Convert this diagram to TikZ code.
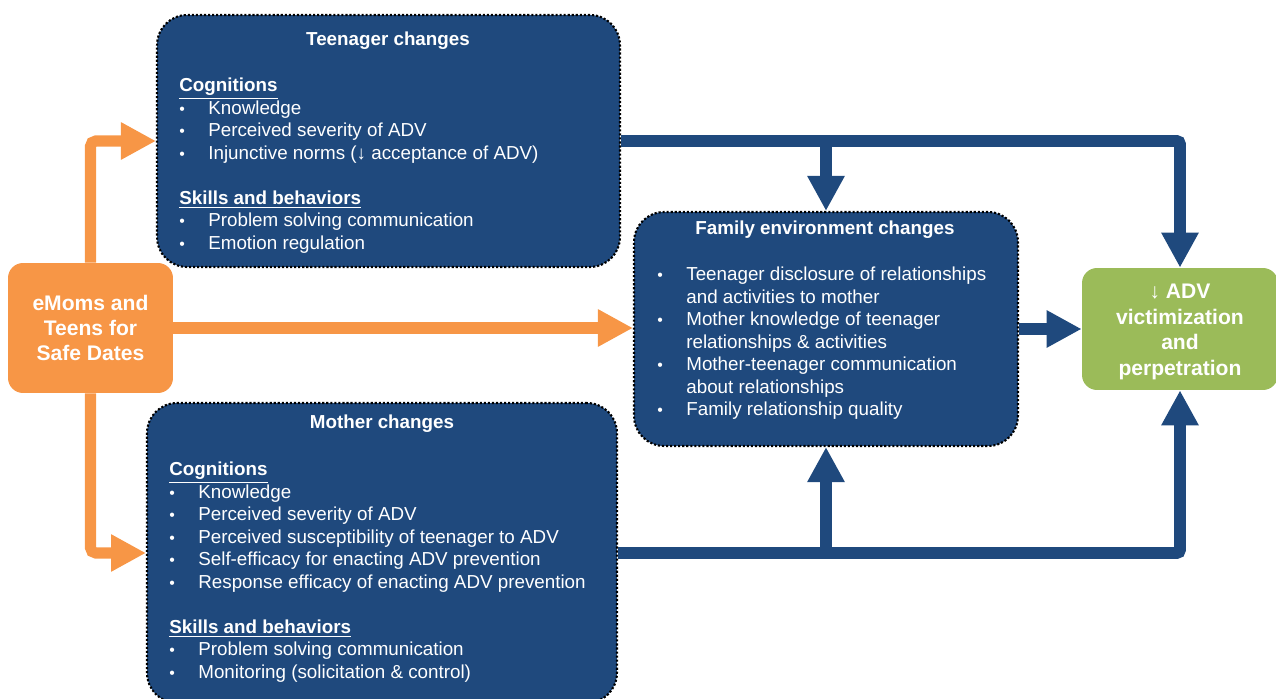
\documentclass[tikz,border=0pt]{standalone}
\usepackage{fontspec}
\setmainfont{Liberation Sans}
\usetikzlibrary{arrows.meta, positioning, calc}

\definecolor{boxblue}{RGB}{31,73,125}
\definecolor{progorange}{RGB}{247,150,70}
\definecolor{outgreen}{RGB}{155,187,89}

\newcommand{\bul}{\makebox[0.58cm][l]{\raisebox{0.2pt}{\fontsize{9}{9}\selectfont\textbullet}}}
\newcommand{\ind}{\hspace*{0.58cm}}
\newcommand{\head}[1]{\underline{\textbf{#1}}}

\begin{document}
\begin{tikzpicture}[
  x=0.02cm, y=-0.02cm,
  bluebox/.style={draw=black, fill=boxblue, rounded corners=0.6cm, line width=1.2pt, dash pattern=on 1.2pt off 1.1pt},
  progbox/.style={fill=progorange, rounded corners=0.3cm, text=white, align=center, font=\fontsize{12}{14.4}\selectfont\bfseries},
  outbox/.style={fill=outgreen, rounded corners=0.3cm},
  outtext/.style={text=white, align=center, inner sep=0pt, font=\fontsize{12}{14.6}\selectfont\bfseries},
  boxtitle/.style={text=white, inner sep=0pt, font=\fontsize{10.7}{12.8}\selectfont\bfseries},
  listtext/.style={text=white, align=left, inner sep=0pt, anchor=north west, font=\fontsize{10.7}{12.8}\selectfont},
  bflow/.style={draw=boxblue, line width=6.8pt, rounded corners=2pt, -{Triangle[length=0.7cm, width=0.7cm]}},
  oflow/.style={draw=progorange, line width=6.3pt, rounded corners=3pt, -{Triangle[length=0.7cm, width=0.7cm]}}
]
\useasboundingbox (0,0) rectangle (1276,699);
\clip (0,0) rectangle (1276,699);

% Program
\node[progbox, minimum width=3.3cm, minimum height=2.6cm] (emoms) at (90.5,328) {eMoms and\\Teens for\\Safe Dates};

% Teenager changes
\node[bluebox, minimum width=9.26cm, minimum height=5.04cm] (teen) at (388.5,141) {};
\node[boxtitle] (teenTitle) at (388,41) {Teenager changes};
\node[listtext] (teenList) at (179,78) {\head{Cognitions}\\
  \bul Knowledge\\
  \bul Perceived severity of ADV\\
  \bul Injunctive norms (↓ acceptance of ADV)\\[12.8pt]
  \head{Skills and behaviors}\\
  \bul Problem solving communication\\
  \bul Emotion regulation};

% Mother changes
\node[bluebox, minimum width=9.4cm, minimum height=6cm] (mom) at (382,553) {};
\node[boxtitle] (momTitle) at (382,424) {Mother changes};
\node[listtext] (momList) at (169,462) {\head{Cognitions}\\
  \bul Knowledge\\
  \bul Perceived severity of ADV\\
  \bul Perceived susceptibility of teenager to ADV\\
  \bul Self-efficacy for enacting ADV prevention\\
  \bul Response efficacy of enacting ADV prevention\\[12.8pt]
  \head{Skills and behaviors}\\
  \bul Problem solving communication\\
  \bul Monitoring (solicitation \& control)};

% Family environment changes
\node[bluebox, minimum width=7.68cm, minimum height=4.68cm] (fam) at (826,329) {};
\node[boxtitle] (famTitle) at (825,230) {Family environment changes};
\node[listtext] (famList) at (657,267) {\bul Teenager disclosure of relationships\\
  \ind and activities to mother\\
  \bul Mother knowledge of teenager\\
  \ind relationships \& activities\\
  \bul Mother-teenager communication\\
  \ind about relationships\\
  \bul Family relationship quality};

% Outcome
\node[outbox, minimum width=3.92cm, minimum height=2.44cm] (adv) at (1180,329) {};
\node[outtext] (advText) at (1180,332) {↓ ADV\\victimization\\and\\perpetration};

% Flows
\draw[oflow] (emoms.north) |- (teen.west);
\draw[oflow] (emoms.south) |- (mom.west);
\draw[oflow] (emoms.east) -- (emoms.east -| fam.west);

\draw[bflow] (teen.east) -| (adv.north);
\draw[bflow] (teen.east -| fam.north) -- (fam.north);
\draw[bflow] (mom.east) -| (adv.south);
\draw[bflow] (mom.east -| fam.south) -- (fam.south);
\draw[bflow] (fam.east) -- (fam.east -| adv.west);
\end{tikzpicture}
\end{document}
